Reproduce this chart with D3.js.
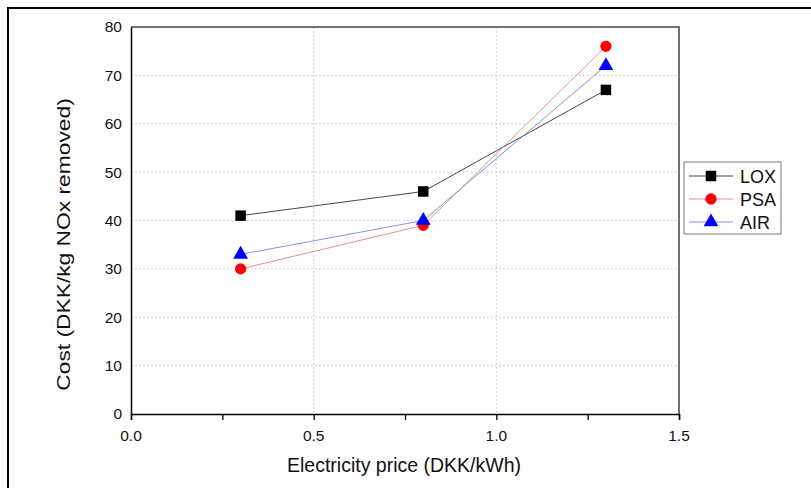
<!DOCTYPE html>
<html>
<head>
<meta charset="utf-8">
<script src="https://cdnjs.cloudflare.com/ajax/libs/d3/7.8.5/d3.min.js"></script>
<style>
  body { margin: 0; background: #fff; }
  text { font-family: "Liberation Sans", Arial, sans-serif; }
</style>
</head>
<body>
<script>
var prices = [0.3, 0.8, 1.3]
var lox = [41, 46, 67]
var psa = [30, 39, 76]
var air = [33, 40, 72]
var seriesNames = ['LOX', 'PSA', 'AIR']
var xTicks = [0.0, 0.5, 1.0, 1.5]
var yTicks = [0, 10, 20, 30, 40, 50, 60, 70, 80]

var width = 811, height = 488
var margin = {left: 131, top: 27, right: 132, bottom: 74}
var w = width - margin.left - margin.right
var h = height - margin.top - margin.bottom

var svg = d3.select('body').append('svg').attr('width', width).attr('height', height)

// outer frame (only top and left edges are visible)
svg.append('path').attr('d', 'M8,' + height + 'V8H' + width)
	.attr('fill', 'none').attr('stroke', '#000').attr('stroke-width', 2)

var x = d3.scaleLinear().domain([0, 1.5]).range([0, w])
var y = d3.scaleLinear().domain([0, 80]).range([h, 0])

var g = svg.append('g').attr('transform', 'translate(' + margin.left + ',' + margin.top + ')')

// grid
g.selectAll('.vgrid').data(xTicks.slice(1, -1)).enter().append('line')
	.attr('x1', (d) => x(d)).attr('x2', (d) => x(d)).attr('y1', 0).attr('y2', h)
	.attr('stroke', '#c4c4c4').attr('stroke-dasharray', '1.5,2.5')
g.selectAll('.hgrid').data(yTicks.slice(1, -1)).enter().append('line')
	.attr('y1', (d) => y(d)).attr('y2', (d) => y(d)).attr('x1', 0).attr('x2', w)
	.attr('stroke', '#c4c4c4').attr('stroke-dasharray', '1.5,2.5')

// top and right border
g.append('path').attr('d', 'M0,0H' + w + 'V' + h)
	.attr('fill', 'none').attr('stroke', '#444').attr('stroke-width', 1.5)

// x axis (ticks from d3, labels drawn below with a bigger font)
var xAxis = d3.axisBottom(x).tickValues(d3.range(0, 1.51, 0.25)).tickSize(6).tickFormat('')
var gx = g.append('g').attr('transform', 'translate(0,' + h + ')').call(xAxis)
gx.select('.domain').attr('stroke-width', 1.5)
gx.selectAll('.tick line').attr('stroke-width', 1.3)
g.selectAll('.xlab').data(xTicks).enter().append('text')
	.attr('x', (d) => x(d)).attr('y', h + 27)
	.attr('text-anchor', 'middle').attr('font-size', 15.5).attr('fill', '#111')
	.text((d) => d3.format('.1f')(d))

// y axis
var yAxis = d3.axisLeft(y).tickValues(yTicks).tickSize(0).tickFormat('')
var gy = g.append('g').call(yAxis)
gy.select('.domain').attr('stroke-width', 1.5)
g.selectAll('.ylab').data(yTicks).enter().append('text')
	.attr('x', -9).attr('y', (d) => y(d)).attr('dy', '0.35em')
	.attr('text-anchor', 'end').attr('font-size', 15.5).attr('fill', '#111')
	.text((d) => d)

// axis titles
svg.append('text').attr('x', margin.left + w / 2 - 1).attr('y', 472)
	.attr('text-anchor', 'middle').attr('font-size', 19.5).attr('fill', '#111')
	.text('Electricity price (DKK/kWh)')
svg.append('text').attr('transform', 'translate(70,' + (margin.top + h / 2 + 24) + ') rotate(-90) scale(1.2,1)')
	.attr('text-anchor', 'middle').attr('font-size', 19).attr('fill', '#111')
	.text('Cost (DKK/kg NOx removed)')

var series = [
	{name: seriesNames[0], values: lox, color: '#000', line: '#333', shape: d3.symbolSquare, size: 110},
	{name: seriesNames[1], values: psa, color: '#f00', line: '#f08080', shape: d3.symbolCircle, size: 100},
	{name: seriesNames[2], values: air, color: '#00f', line: '#8080e0', shape: d3.symbolTriangle, size: 95}
]

var line = d3.line().x((d, i) => x(prices[i])).y((d) => y(d))

series.forEach((s) => {
	g.append('path').attr('d', line(s.values))
		.attr('fill', 'none').attr('stroke', s.line).attr('stroke-width', 0.9)
	g.selectAll(null).data(s.values).enter().append('path')
		.attr('d', d3.symbol().type(s.shape).size(s.size))
		.attr('transform', (d, i) => 'translate(' + x(prices[i]) + ',' + y(d) + ')')
		.attr('fill', s.color)
})

// legend
var lg = svg.append('g').attr('transform', 'translate(684,162)')
lg.append('rect').attr('width', 97).attr('height', 72)
	.attr('fill', '#fff').attr('stroke', '#777').attr('stroke-width', 1)
series.forEach((s, i) => {
	var yy = 14 + i * 23
	lg.append('line').attr('x1', 5).attr('x2', 49).attr('y1', yy).attr('y2', yy)
		.attr('stroke', s.line).attr('stroke-width', 0.9)
	lg.append('path').attr('d', d3.symbol().type(s.shape).size(s.size)())
		.attr('transform', 'translate(27,' + yy + ')').attr('fill', s.color)
	lg.append('text').attr('x', 56).attr('y', yy + 7).attr('font-size', 18).attr('fill', '#111')
		.text(s.name)
})
</script>
</body>
</html>
